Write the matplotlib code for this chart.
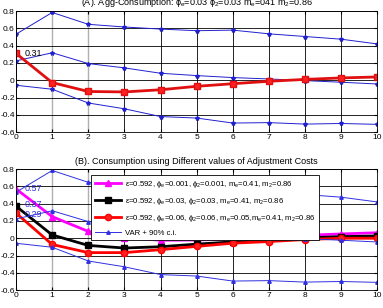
import matplotlib.pyplot as plt

# horizon
h = list(range(11))

# VAR band (upper, point estimate, lower)
var_up = [0.533, 0.784, 0.647, 0.616, 0.592, 0.573, 0.58, 0.537, 0.506, 0.475, 0.42]
var_mid = [0.224, 0.318, 0.193, 0.143, 0.081, 0.054, 0.031, 0.015, -0.004, -0.023, -0.043]
var_lo = [-0.058, -0.104, -0.263, -0.33, -0.42, -0.437, -0.495, -0.49, -0.507, -0.5, -0.51]

# panel A model
agg_c = [0.31, -0.027, -0.13, -0.135, -0.11, -0.07, -0.04, -0.012, 0.01, 0.027, 0.038]

# panel B models
c_low = [0.57, 0.25, 0.079, 0.008, -0.023, -0.02, -0.01, 0.019, 0.034, 0.05, 0.064]
c_mid = [0.37, 0.038, -0.083, -0.113, -0.098, -0.068, -0.042, -0.019, 0.004, 0.019, 0.026]
c_high = [0.29, -0.072, -0.166, -0.166, -0.132, -0.094, -0.057, -0.038, -0.015, 0.0, 0.0]

labels = [r'$\epsilon$=0.592, $\phi_e$=0.001, $\phi_2$=0.001, m$_e$=0.41, m$_2$=0.86',
          r'$\epsilon$=0.592, $\phi_e$=0.03, $\phi_2$=0.03, m$_e$=0.41, m$_2$=0.86',
          r'$\epsilon$=0.592, $\phi_e$=0.06, $\phi_2$=0.06, m$_e$=0.05,m$_e$=0.41, m$_2$=0.86',
          'VAR + 90% c.i.']

plt.rcParams['font.family'] = ['Liberation Sans', 'DejaVu Sans']
plt.rcParams['mathtext.fontset'] = 'custom'
plt.rcParams['mathtext.rm'] = 'Liberation Sans'
plt.rcParams['mathtext.it'] = 'Liberation Sans'

fig = plt.figure(figsize=(3.83, 3.08), dpi=100)
ax1 = fig.add_axes([0.042, 0.571, 0.943, 0.393])
ax2 = fig.add_axes([0.042, 0.058, 0.943, 0.393])


def style(ax):
    ax.set_xlim(0, 10)
    ax.set_ylim(-0.6, 0.8)
    ax.set_xticks(h)
    ax.set_yticks([-0.6, -0.4, -0.2, 0, 0.2, 0.4, 0.6, 0.8])
    ax.set_yticklabels(['-0.6', '-0.4', '-0.2', '0', '0.2', '0.4', '0.6', '0.8'])
    ax.grid(True, color='black', linewidth=0.6)
    # the gridlines at x=1 and x=2 look lighter in the original
    for i in (1, 2):
        ax.get_xgridlines()[i].set_color('#b0b0b0')
        ax.get_xgridlines()[i].set_linewidth(1.0)
    ax.tick_params(labelsize=6, length=2, direction='in', pad=1, top=True, right=True)
    for s in ax.spines.values():
        s.set_linewidth(0.6)


# panel A
for band in (var_up, var_mid, var_lo):
    ax1.plot(h, band, color='#2020d0', lw=0.7, marker='*', ms=3)
ax1.plot(h, agg_c, color='#e01010', lw=2, marker='s', ms=5, mfc='#ff2020')
ax1.text(0.25, 0.31, '0.31', fontsize=6.5, va='center')
style(ax1)
ax1.set_title(r'(A). Agg-Consumption: $\phi_e$=0.03 $\phi_2$=0.03 m$_e$=041 m$_2$=0.86',
              fontsize=6.5, y=1.035, pad=1)

# panel B
l1, = ax2.plot(h, c_low, color='#ff00ff', lw=2, marker='^', ms=5)
l2, = ax2.plot(h, c_mid, color='black', lw=2, marker='s', ms=4, mfc='black')
l3, = ax2.plot(h, c_high, color='#ff0000', lw=2, marker='o', ms=4.5, mfc='#ff2020')
lv, = ax2.plot(h, var_up, color='#3030e0', lw=0.7, marker='^', ms=2.5)
ax2.plot(h, var_mid, color='#3030e0', lw=0.7, marker='^', ms=2.5)
ax2.plot(h, var_lo, color='#3030e0', lw=0.7, marker='^', ms=2.5)
ax2.text(0.25, 0.57, '0.57', fontsize=6.5, va='center', color='#3030e0')
ax2.text(0.25, 0.385, '0.37', fontsize=6.5, va='center', color='#3030e0')
ax2.text(0.25, 0.28, '0.29', fontsize=6.5, va='center', color='#3030e0')
style(ax2)
ax2.set_title('(B). Consumption using Different values of Adjustment Costs', fontsize=6.5, pad=4)
leg = ax2.legend([l1, l2, l3, lv], labels, loc='upper left', bbox_to_anchor=(0.197, 0.98),
                 fontsize=5.6, frameon=True, fancybox=False, edgecolor='black',
                 handlelength=3.4, borderpad=0.45, labelspacing=0.75, handletextpad=0.5)
leg.get_frame().set_linewidth(0.6)
leg.get_frame().set_alpha(1)

fig.savefig('out.png', dpi=100)
